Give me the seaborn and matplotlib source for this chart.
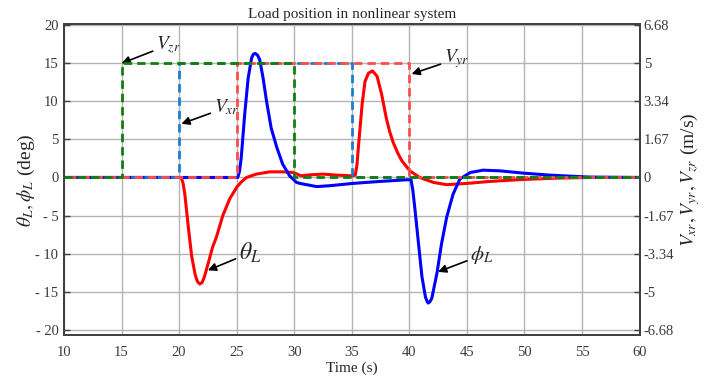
import numpy as np
import pandas as pd
import matplotlib
matplotlib.use("Agg")
import matplotlib.pyplot as plt
import seaborn as sns

# ---- data ----
theta_t = [10, 20.2, 20.35, 20.5, 20.8, 21.1, 21.4, 21.6, 21.8, 22.0, 22.2, 22.6, 22.9, 23.25,
           23.8, 24.4, 25.0, 25.4, 25.86, 26.7, 27.9, 29.0, 29.9, 30.6, 31.4, 32.5, 33.7, 35.0,
           35.3, 35.45, 35.6, 35.9, 36.15, 36.45, 36.8, 37.2, 37.6, 38.0, 38.3, 38.6, 39.0,
           39.35, 40.05, 40.9, 42.1, 43.25, 45.0, 47.0, 49.9, 52.8, 55.7, 60]
theta_v = [0, 0, -0.8, -2.2, -6.5, -10.4, -12.8, -13.7, -14.0, -13.8, -13.05, -10.9, -9.2, -7.8,
           -5.0, -2.8, -1.3, -0.6, 0, 0.44, 0.74, 0.74, 0.66, 0.22, 0.35, 0.44, 0.31, 0.22,
           0.3, 1.6, 4.4, 9.6, 12.6, 13.7, 14.0, 13.3, 10.9, 7.8, 6.0, 4.6, 3.2,
           2.2, 0.87, 0, -0.65, -0.95, -0.78, -0.52, -0.26, -0.09, 0, 0]

phi_t = [10, 25.1, 25.25, 25.4, 25.7, 26.0, 26.3, 26.45, 26.6, 26.8, 27.0, 27.3, 27.6, 28.0,
         28.5, 29.0, 29.6, 30.2, 30.5, 31.95, 33.1, 35.1, 37.45, 39.8, 40.15, 40.3, 40.5, 40.8,
         41.1, 41.4, 41.55, 41.65, 41.8, 41.95, 42.4, 42.8, 43.25, 43.8, 44.4, 45.3, 46.4, 47.9,
         49.9, 52.2, 54.55, 55.7, 60]
phi_v = [0, 0, 0.8, 2.6, 8.3, 13.05, 15.7, 16.2, 16.3, 16.1, 15.5, 13.05, 10.0, 6.5,
         3.9, 1.75, 0.22, -0.65, -0.78, -1.2, -1.08, -0.78, -0.52, -0.3, -0.3, -1.6, -4.3, -8.7,
         -13.05, -15.7, -16.3, -16.5, -16.3, -15.9, -12.6, -8.7, -5.2, -2.2, -0.2, 0.65, 0.96, 0.87,
         0.57, 0.31, 0.13, 0.05, 0]

vxr_t = [10, 20, 20, 35, 35, 60]
vxr_v = [0, 0, 5, 5, 0, 0]
vyr_t = [10, 25, 25, 40, 40, 60]
vyr_v = [0, 0, 5, 5, 0, 0]
vzr_t = [10, 15, 15, 30, 30, 60]
vzr_v = [0, 0, 5, 5, 0, 0]

xticks = [10, 15, 20, 25, 30, 35, 40, 45, 50, 55, 60]
yticks_left = [20, 15, 10, 5, 0, -5, -10, -15, -20]
yticklabels_left = ["20", "15", "10", "5", "0", "- 5", "- 10", "- 15", "- 20"]
yticks_right = [6.68, 5, 3.34, 1.67, 0, -1.67, -3.34, -5, -6.68]
yticklabels_right = ["6.68", "5", "3.34", "1.67", "0", "-1.67", "-3.34", "-5", "-6.68"]

# ---- styling ----
sns.set_theme(style="white")
plt.rcParams["font.family"] = ["Liberation Serif", "DejaVu Serif"]
plt.rcParams["mathtext.fontset"] = "stix"

fig = plt.figure(figsize=(7.18, 3.81), dpi=100)
ax = fig.add_axes([0.0891, 0.1207, 0.8016, 0.815])
ax2 = ax.twinx()

df_theta = pd.DataFrame({"t": theta_t, "v": theta_v})
df_phi = pd.DataFrame({"t": phi_t, "v": phi_v})
sns.lineplot(data=df_theta, x="t", y="v", ax=ax, color="#ff0000", lw=2.2, sort=False,
             estimator=None, errorbar=None)
sns.lineplot(data=df_phi, x="t", y="v", ax=ax, color="#0000ff", lw=2.2, sort=False,
             estimator=None, errorbar=None)
for ln in ax.lines:
    ln.set_solid_joinstyle("round")

for tt, vv, col, off in [(vxr_t, vxr_v, "#1a7fd0", 0),
                         (vyr_t, vyr_v, "#ff4d4d", 3.5),
                         (vzr_t, vzr_v, "#0f7f0f", 0)]:
    d = pd.DataFrame({"t": tt, "v": vv})
    sns.lineplot(data=d, x="t", y="v", ax=ax2, color=col, lw=2.0, sort=False,
                 estimator=None, errorbar=None)
    ln = ax2.lines[-1]
    ln.set_linestyle((off, (3.0, 1.8)))
    ln.set_dash_capstyle("butt")

ylo, yhi = -20.7, 20.1
ax.set_xlim(10, 60)
ax.set_ylim(ylo, yhi)
ax2.set_ylim(ylo / 3.0, yhi / 3.0)

ax.set_xticks(xticks)
ax.set_xticklabels([str(x) for x in xticks])
ax.set_yticks(yticks_left)
ax.set_yticklabels(yticklabels_left)
ax2.set_yticks(yticks_right)
ax2.set_yticklabels(yticklabels_right)

ax.grid(True, color="#b4b4b4", lw=1.0)
ax.set_axisbelow(True)
ax2.grid(False)
ax.set_xlabel("")
ax.set_ylabel("")
ax2.set_ylabel("")

tick_col = "#3a3a3a"
for a in (ax, ax2):
    a.tick_params(direction="in", length=4, width=1, colors="#404040",
                  labelcolor=tick_col, labelsize=10.5)
    for s in a.spines.values():
        s.set_color("#404040")
        s.set_linewidth(1.3)
ax.tick_params(axis="x", pad=8)
ax.tick_params(axis="y", pad=4)
ax2.tick_params(axis="y", pad=3)

ax.set_title("Load position in nonlinear system", fontsize=11, pad=5)
ax.set_xlabel("Time (s)", fontsize=11, labelpad=2)
ax.set_ylabel(r"$\theta_L, \phi_L$ (deg)", fontsize=14, labelpad=-1)
ax2.set_ylabel(r"$V_{xr}, V_{yr}, V_{zr}$ (m/s)", fontsize=14, labelpad=3)

arrow = dict(arrowstyle="-|>", color="black", lw=1.2, mutation_scale=12,
             shrinkA=0, shrinkB=0)
ax.annotate(r"$V_{zr}$", xy=(15.0, 15.0), xytext=(18.0, 17.4), fontsize=14,
            ha="left", va="center", arrowprops=arrow)
ax.annotate(r"$V_{xr}$", xy=(20.2, 7.05), xytext=(23.0, 9.2), fontsize=14,
            ha="left", va="center", arrowprops=arrow)
ax.annotate(r"$V_{yr}$", xy=(40.2, 13.6), xytext=(43.0, 15.6), fontsize=14,
            ha="left", va="center", arrowprops=arrow)
ax.annotate(r"$\theta_L$", xy=(22.5, -12.2), xytext=(25.2, -9.9), fontsize=17,
            ha="left", va="center", arrowprops=arrow)
ax.annotate(r"$\phi_L$", xy=(42.5, -12.4), xytext=(45.3, -10.2), fontsize=15,
            ha="left", va="center", arrowprops=arrow)

fig.savefig("out.png", dpi=100)
